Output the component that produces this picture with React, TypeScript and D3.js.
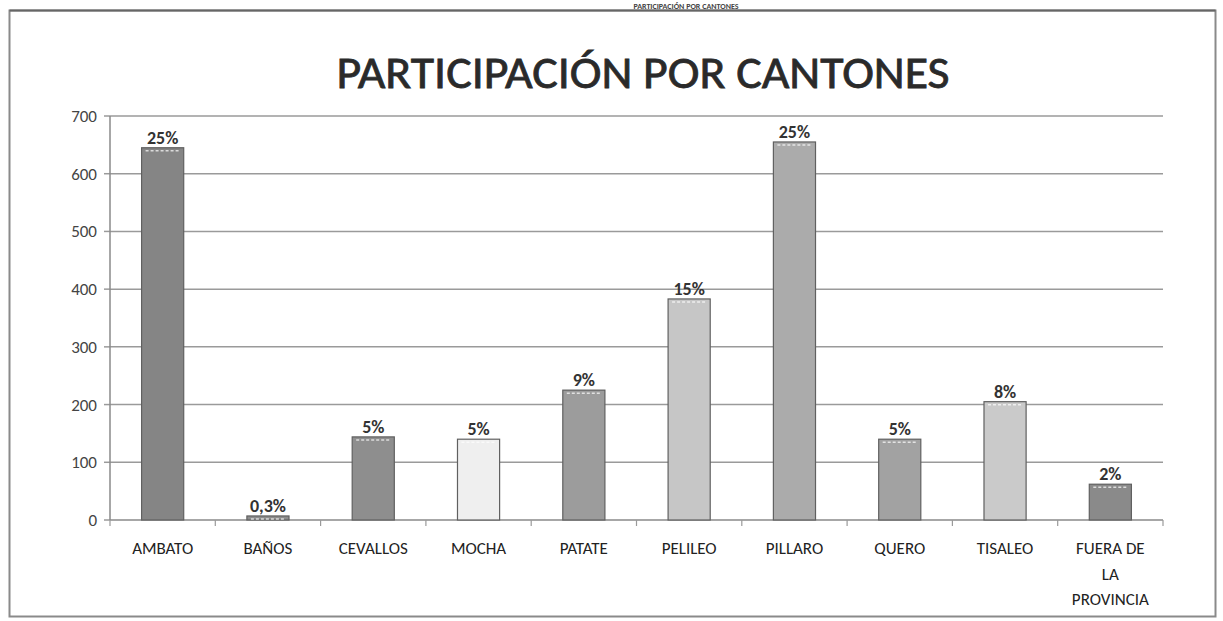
import React from "react";
import * as d3 from "d3";

const categories = ["AMBATO", "BAÑOS", "CEVALLOS", "MOCHA", "PATATE", "PELILEO", "PILLARO", "QUERO", "TISALEO", "FUERA DE\nLA\nPROVINCIA"];
const values = [645, 7, 144, 140, 225, 383, 655, 140, 205, 62];
const percentLabels = ["25%", "0,3%", "5%", "5%", "9%", "15%", "25%", "5%", "8%", "2%"];
const barColors = ["#858585", "#8c8c8c", "#8e8e8e", "#efefef", "#9c9c9c", "#c6c6c6", "#ababab", "#a2a2a2", "#cacaca", "#8a8a8a"];
const yTicks = [0, 100, 200, 300, 400, 500, 600, 700];
const title = "PARTICIPACIÓN POR CANTONES";

const W = 1223;
const H = 621;
const left = 110;
const right = 1163;
const top = 116;
const bottom = 520;

export default function App() {
  const x = d3.scaleBand<string>().domain(categories).range([left, right]).paddingInner(0.6).paddingOuter(0.3);
  const y = d3.scaleLinear().domain([0, 700]).range([bottom, top]);
  const step = x.step();
  const font = "Carlito, Calibri, 'Liberation Sans', Arial, sans-serif";

  return (
    <svg width={W} height={H} style={{ position: "fixed", left: 0, top: 0, background: "#fff" }} fontFamily={font}>
      <rect x={0} y={0} width={W} height={H} fill="#fff" />
      {/* heading above the box (cut in the reference) */}
      <text x={686} y={8.5} textAnchor="middle" fontSize={8} fontWeight="bold" fill="#444">
        {title}
      </text>
      {/* outer frame */}
      <rect x={9.5} y={10.5} width={1206} height={606} fill="none" stroke="#8a8a8a" strokeWidth={2} />
      <line x1={9.5} x2={1215.5} y1={10.5} y2={10.5} stroke="#666" strokeWidth={2} />

      {/* title */}
      <text x={643} y={88} textAnchor="middle" fontSize={46} fill="#2a2a2a" stroke="#2a2a2a" strokeWidth={0.8} textLength={613} lengthAdjust="spacingAndGlyphs">
        {title}
      </text>

      {/* gridlines */}
      {yTicks.map((t) => (
        <g key={t}>
          {t > 0 && <line x1={left} x2={right} y1={y(t)} y2={y(t)} stroke="#9a9a9a" strokeWidth={1.5} />}
          <line x1={left - 6} x2={left} y1={y(t)} y2={y(t)} stroke="#9a9a9a" strokeWidth={1.5} />
          <text x={97} y={y(t) + 6} textAnchor="end" fontSize={17} fill="#444">
            {t}
          </text>
        </g>
      ))}

      {/* axes */}
      <line x1={left} x2={left} y1={top} y2={bottom} stroke="#8a8a8a" strokeWidth={1.5} />
      <line x1={left} x2={right} y1={bottom} y2={bottom} stroke="#8a8a8a" strokeWidth={1.5} />
      {d3.range(categories.length + 1).map((i) => (
        <line key={i} x1={left + i * step} x2={left + i * step} y1={bottom} y2={bottom + 6} stroke="#9a9a9a" strokeWidth={1.2} />
      ))}

      {/* bars */}
      {categories.map((c, i) => {
        const bx = x(c) as number;
        const bw = x.bandwidth();
        const by = y(values[i]);
        const bh = bottom - by;
        return (
          <g key={c}>
            <rect x={bx} y={by} width={bw} height={bh} fill={barColors[i]} stroke="#606060" strokeWidth={1.2} />
            <line x1={bx + 4} x2={bx + bw - 4} y1={by + 3} y2={by + 3} stroke="#fff" strokeOpacity={0.7} strokeWidth={1.5} strokeDasharray="3 2" />
            <text x={bx + bw / 2} y={by - 4} textAnchor="middle" fontSize={18} fontWeight="bold" fill="#333">
              {percentLabels[i]}
            </text>
          </g>
        );
      })}

      {/* category labels */}
      {categories.map((c) => {
        const cx = (x(c) as number) + x.bandwidth() / 2;
        const lines = c.split("\n");
        return (
          <text key={c} x={cx} y={554} textAnchor="middle" fontSize={17} fill="#222">
            {lines.map((l, j) => (
              <tspan key={j} x={cx} dy={j === 0 ? 0 : 25.5}>
                {l}
              </tspan>
            ))}
          </text>
        );
      })}
    </svg>
  );
}
